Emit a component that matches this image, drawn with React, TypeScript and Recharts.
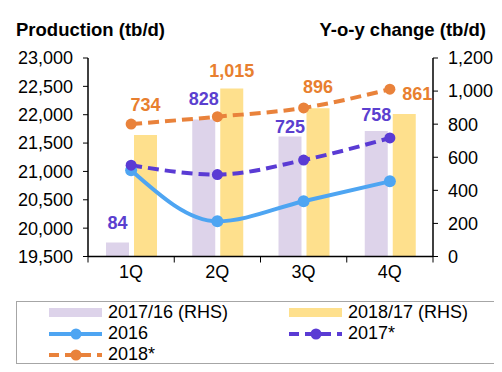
import React from 'react';
import { ComposedChart, Bar, Line, XAxis, YAxis, Legend, LabelList } from 'recharts';

// quarters and values
const quarters = ['1Q', '2Q', '3Q', '4Q'];
const yoy1716 = [84, 828, 725, 758];
const yoy1817 = [734, 1015, 896, 861];
const prod2016 = [21020, 20120, 20475, 20825];
const prod2017 = [21110, 20945, 21200, 21590];
const prod2018 = [21835, 21965, 22120, 22450];
const leftTicks = [19500, 20000, 20500, 21000, 21500, 22000, 22500, 23000];
const rightTicks = [0, 200, 400, 600, 800, 1000, 1200];

// label nudges (px), labels were moved by hand in the original
const purpleLift = [14, 15, 4, 10];
const orangeLift = [24, 12, 15, 14];
const orangeShift = [0, 0, 0, 13];

const C = {
  bar1716: '#ddd3ea',
  bar1817: '#fee08d',
  l2016: '#4ea5f2',
  l2017: '#5a3bd4',
  l2018: '#e9823b',
  txtPurple: '#5b3fcf',
  txtOrange: '#e87f2f',
};

const FONT = '"Liberation Sans", Arial, sans-serif';

const data = quarters.map((q, i) => ({
  q,
  a: yoy1716[i],
  b: yoy1817[i],
  p16: prod2016[i],
  p17: prod2017[i],
  p18: prod2018[i],
}));

const fmt = (v: number) => v.toLocaleString('en-US');

const makeLabel = (color: string, lift: number[], shift: number[]) => (props: any) => {
  const { x, y, width, value, index } = props;
  return (
    <text
      x={x + width / 2 + (shift[index] || 0)}
      y={y - lift[index]}
      textAnchor="middle"
      fill={color}
      fontWeight="bold"
      fontSize={18}
      fontFamily={FONT}
    >
      {fmt(value)}
    </text>
  );
};

// category tick: label in the middle, tick marks on the band edges (Excel style)
const QuarterTick = (props: any) => {
  const { x, y, payload, index } = props;
  const half = payload.offset || 0;
  const top = y - 9;
  return (
    <g>
      <line x1={x - half} y1={top} x2={x - half} y2={top + 6} stroke="#000" />
      {index === quarters.length - 1 && <line x1={x + half} y1={top} x2={x + half} y2={top + 6} stroke="#000" />}
      <text x={x} y={y} dy="0.71em" textAnchor="middle" fontSize={18} fontFamily={FONT} fill="#000">
        {payload.value}
      </text>
    </g>
  );
};

const Swatch = ({ kind, color, dashed }: { kind: 'bar' | 'line'; color: string; dashed?: boolean }) => (
  <svg width={53} height={14} style={{ display: 'block' }}>
    {kind === 'bar' ? (
      <rect x={0} y={2} width={53} height={9} fill={color} />
    ) : (
      <>
        <line x1={0} y1={7} x2={53} y2={7} stroke={color} strokeWidth={4} strokeDasharray={dashed ? '10 6' : undefined} />
        <circle cx={27} cy={7} r={5.5} fill={color} />
      </>
    )}
  </svg>
);

const LegendItem = ({ label, ...s }: any) => (
  <div style={{ display: 'flex', alignItems: 'center', height: 21 }}>
    <Swatch {...s} />
    <span style={{ marginLeft: 6 }}>{label}</span>
  </div>
);

const ChartLegend = () => (
  <div
    style={{
      width: 477,
      height: 61,
      border: '1px solid #a6a6a6',
      boxSizing: 'content-box',
      fontFamily: FONT,
      fontSize: 18,
      color: '#000',
      position: 'relative',
    }}
  >
    <div style={{ position: 'absolute', left: 32, top: 0 }}>
      <LegendItem kind="bar" color={C.bar1716} label="2017/16 (RHS)" />
      <LegendItem kind="line" color={C.l2016} label="2016" />
      <LegendItem kind="line" color={C.l2018} dashed label="2018*" />
    </div>
    <div style={{ position: 'absolute', left: 272, top: 0 }}>
      <LegendItem kind="bar" color={C.bar1817} label="2018/17 (RHS)" />
      <LegendItem kind="line" color={C.l2017} dashed label="2017*" />
    </div>
  </div>
);

const tickStyle = { fontSize: 18, fill: '#000', fontFamily: FONT };

export default function App() {
  return (
    <div style={{ margin: -8, position: 'relative', width: 502, height: 372, background: '#fff', fontFamily: FONT }}>
      <div style={{ position: 'absolute', left: 16, top: 19, fontSize: 18.5, fontWeight: 'bold', lineHeight: '22px' }}>
        Production (tb/d)
      </div>
      <div style={{ position: 'absolute', right: 16, top: 19, fontSize: 18.5, fontWeight: 'bold', lineHeight: '22px' }}>
        Y-o-y change (tb/d)
      </div>
      <ComposedChart
        width={502}
        height={372}
        data={data}
        margin={{ top: 58, right: 0, left: 0, bottom: 85.5 }}
        barCategoryGap={18}
        barGap={5}
      >
        <XAxis
          dataKey="q"
          tick={<QuarterTick />}
          tickLine={false}
          tickSize={0}
          tickMargin={9}
          axisLine={{ stroke: '#000', strokeWidth: 1.5 }}
          height={30}
        />
        <YAxis
          yAxisId="left"
          domain={[19500, 23000]}
          ticks={leftTicks}
          tickFormatter={fmt}
          tick={tickStyle}
          tickSize={5}
          tickMargin={10}
          axisLine={{ stroke: '#000', strokeWidth: 1.5 }}
          tickLine={{ stroke: '#000' }}
          width={88}
          allowDataOverflow
        />
        <YAxis
          yAxisId="right"
          orientation="right"
          domain={[0, 1200]}
          ticks={rightTicks}
          tickFormatter={fmt}
          tick={tickStyle}
          tickSize={5}
          tickMargin={10}
          axisLine={{ stroke: '#000', strokeWidth: 1.5 }}
          tickLine={{ stroke: '#000' }}
          width={69}
          allowDataOverflow
        />
        <Bar yAxisId="right" dataKey="a" name="2017/16 (RHS)" fill={C.bar1716} isAnimationActive={false}>
          <LabelList dataKey="a" content={makeLabel(C.txtPurple, purpleLift, [0, 0, 0, 0])} />
        </Bar>
        <Bar yAxisId="right" dataKey="b" name="2018/17 (RHS)" fill={C.bar1817} isAnimationActive={false}>
          <LabelList dataKey="b" content={makeLabel(C.txtOrange, orangeLift, orangeShift)} />
        </Bar>
        <Line
          yAxisId="left"
          type="monotone"
          dataKey="p16"
          name="2016"
          stroke={C.l2016}
          strokeWidth={4}
          dot={{ r: 6, fill: C.l2016, stroke: C.l2016, strokeWidth: 0 }}
          isAnimationActive={false}
        />
        <Line
          yAxisId="left"
          type="monotone"
          dataKey="p17"
          name="2017*"
          stroke={C.l2017}
          strokeWidth={4}
          strokeDasharray="11 6"
          dot={{ r: 5.5, fill: C.l2017, stroke: C.l2017, strokeWidth: 0 }}
          isAnimationActive={false}
        />
        <Line
          yAxisId="left"
          type="monotone"
          dataKey="p18"
          name="2018*"
          stroke={C.l2018}
          strokeWidth={4}
          strokeDasharray="11 6"
          dot={{ r: 5.5, fill: C.l2018, stroke: C.l2018, strokeWidth: 0 }}
          isAnimationActive={false}
        />
        <Legend
          layout="horizontal"
          verticalAlign="middle"
          align="center"
          content={() => <ChartLegend />}
          wrapperStyle={{ position: 'absolute', top: 301, left: 16, width: 479, height: 63 }}
        />
      </ComposedChart>
    </div>
  );
}
